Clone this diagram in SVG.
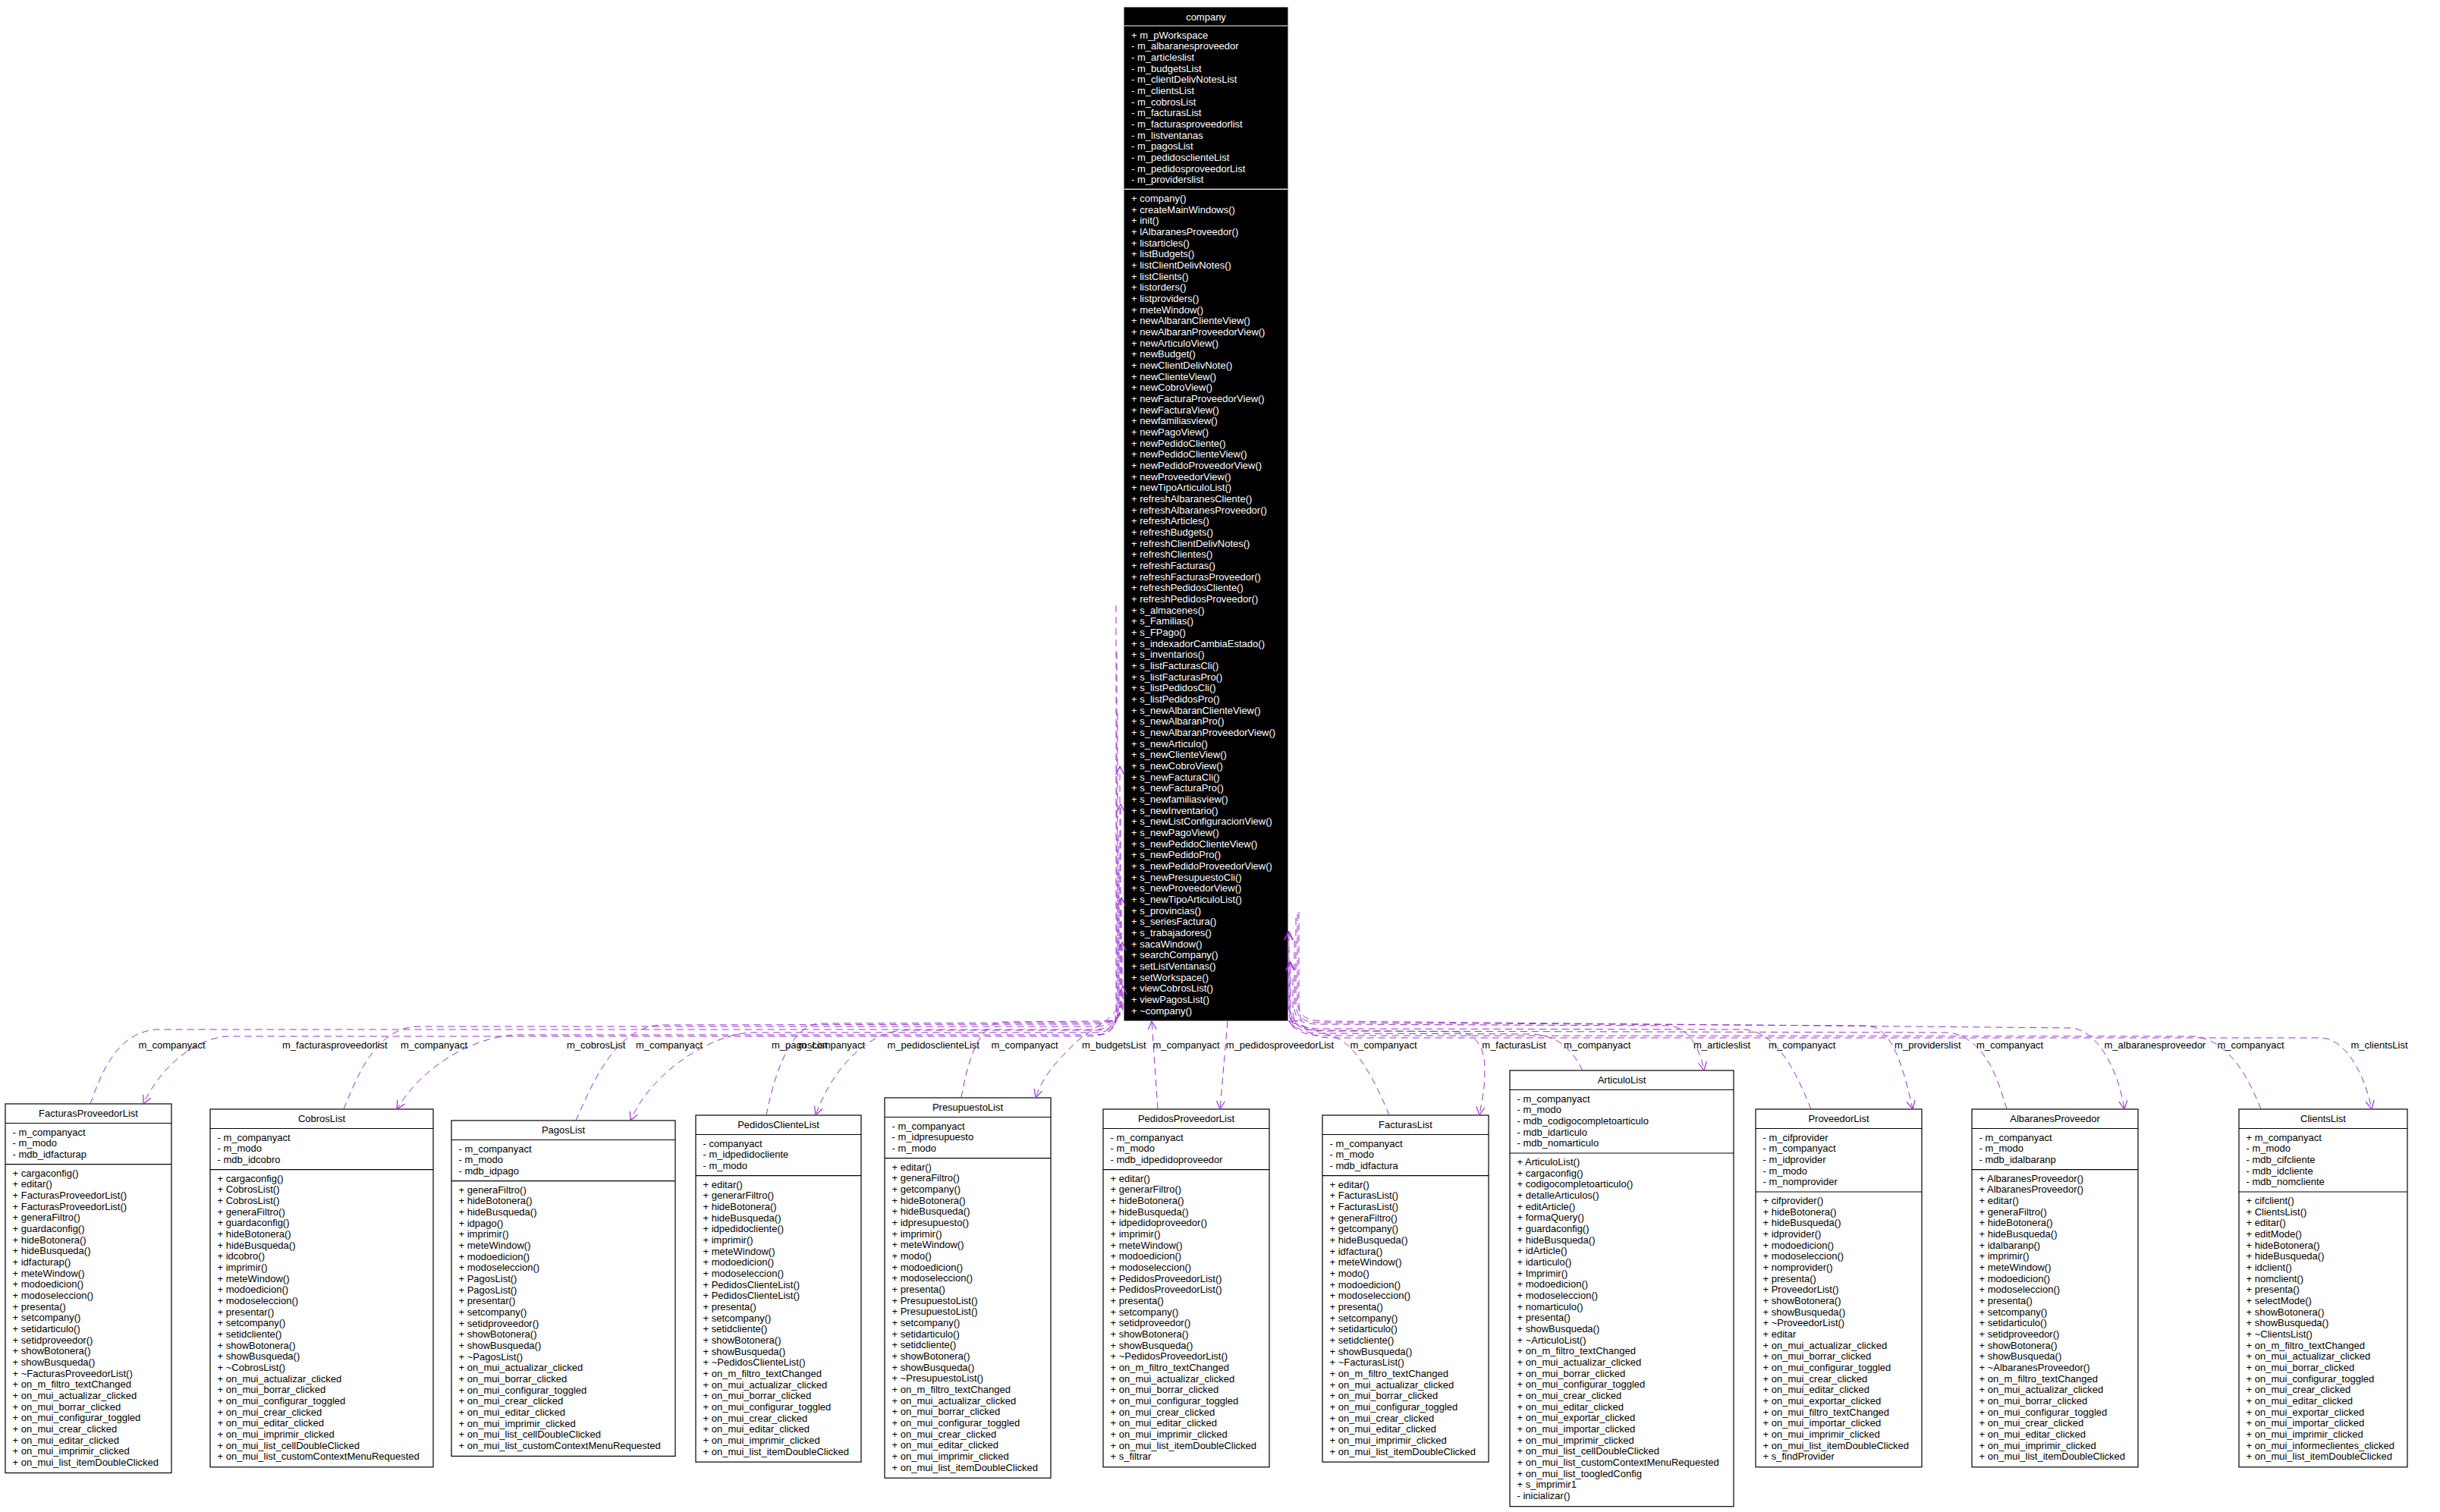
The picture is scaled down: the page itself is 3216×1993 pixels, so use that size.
<svg xmlns="http://www.w3.org/2000/svg" width="3216" height="1993" viewBox="0 0 3216 1993">
<defs>
<style>
.bx{fill:#fff;stroke:#000;stroke-width:1.2}
.sp{stroke:#000;stroke-width:1.2}
text{font-family:"Liberation Sans",Arial,Helvetica,sans-serif;font-size:13px;fill:#000}
.ttl{text-anchor:middle}
.cb{fill:#000;stroke:#000}
text.cw{fill:#fff}
.csp{stroke:#fff;stroke-width:1.2}
.e{fill:none;stroke:#9a32cd;stroke-width:1;stroke-dasharray:9 6;marker-end:url(#ah)}
</style>
<marker id="ah" viewBox="0 0 12 12" refX="11" refY="6" markerWidth="12" markerHeight="12" markerUnits="userSpaceOnUse" orient="auto">
<path d="M0,0.5 L11,6 L0,11.5" fill="none" stroke="#9a32cd" stroke-width="1.2"/>
</marker>
</defs>
<rect width="3216" height="1993" fill="#fff"/>

<g id="company">
<rect class="cb" x="1482" y="10" width="215" height="1335"/>
<line class="csp" x1="1482" y1="34" x2="1697" y2="34"/>
<line class="csp" x1="1482" y1="249.4" x2="1697" y2="249.4"/>
<text class="cw ttl" x="1589.5" y="27">company</text>
<text class="cw" x="1491" y="50.5"><tspan>+ m_pWorkspace</tspan><tspan x="1491" dy="14.67">- m_albaranesproveedor</tspan><tspan x="1491" dy="14.67">- m_articleslist</tspan><tspan x="1491" dy="14.67">- m_budgetsList</tspan><tspan x="1491" dy="14.67">- m_clientDelivNotesList</tspan><tspan x="1491" dy="14.67">- m_clientsList</tspan><tspan x="1491" dy="14.67">- m_cobrosList</tspan><tspan x="1491" dy="14.67">- m_facturasList</tspan><tspan x="1491" dy="14.67">- m_facturasproveedorlist</tspan><tspan x="1491" dy="14.67">- m_listventanas</tspan><tspan x="1491" dy="14.67">- m_pagosList</tspan><tspan x="1491" dy="14.67">- m_pedidosclienteList</tspan><tspan x="1491" dy="14.67">- m_pedidosproveedorList</tspan><tspan x="1491" dy="14.67">- m_providerslist</tspan></text>
<text class="cw" x="1491" y="265.9"><tspan>+ company()</tspan><tspan x="1491" dy="14.67">+ createMainWindows()</tspan><tspan x="1491" dy="14.67">+ init()</tspan><tspan x="1491" dy="14.67">+ lAlbaranesProveedor()</tspan><tspan x="1491" dy="14.67">+ listarticles()</tspan><tspan x="1491" dy="14.67">+ listBudgets()</tspan><tspan x="1491" dy="14.67">+ listClientDelivNotes()</tspan><tspan x="1491" dy="14.67">+ listClients()</tspan><tspan x="1491" dy="14.67">+ listorders()</tspan><tspan x="1491" dy="14.67">+ listproviders()</tspan><tspan x="1491" dy="14.67">+ meteWindow()</tspan><tspan x="1491" dy="14.67">+ newAlbaranClienteView()</tspan><tspan x="1491" dy="14.67">+ newAlbaranProveedorView()</tspan><tspan x="1491" dy="14.67">+ newArticuloView()</tspan><tspan x="1491" dy="14.67">+ newBudget()</tspan><tspan x="1491" dy="14.67">+ newClientDelivNote()</tspan><tspan x="1491" dy="14.67">+ newClienteView()</tspan><tspan x="1491" dy="14.67">+ newCobroView()</tspan><tspan x="1491" dy="14.67">+ newFacturaProveedorView()</tspan><tspan x="1491" dy="14.67">+ newFacturaView()</tspan><tspan x="1491" dy="14.67">+ newfamiliasview()</tspan><tspan x="1491" dy="14.67">+ newPagoView()</tspan><tspan x="1491" dy="14.67">+ newPedidoCliente()</tspan><tspan x="1491" dy="14.67">+ newPedidoClienteView()</tspan><tspan x="1491" dy="14.67">+ newPedidoProveedorView()</tspan><tspan x="1491" dy="14.67">+ newProveedorView()</tspan><tspan x="1491" dy="14.67">+ newTipoArticuloList()</tspan><tspan x="1491" dy="14.67">+ refreshAlbaranesCliente()</tspan><tspan x="1491" dy="14.67">+ refreshAlbaranesProveedor()</tspan><tspan x="1491" dy="14.67">+ refreshArticles()</tspan><tspan x="1491" dy="14.67">+ refreshBudgets()</tspan><tspan x="1491" dy="14.67">+ refreshClientDelivNotes()</tspan><tspan x="1491" dy="14.67">+ refreshClientes()</tspan><tspan x="1491" dy="14.67">+ refreshFacturas()</tspan><tspan x="1491" dy="14.67">+ refreshFacturasProveedor()</tspan><tspan x="1491" dy="14.67">+ refreshPedidosCliente()</tspan><tspan x="1491" dy="14.67">+ refreshPedidosProveedor()</tspan><tspan x="1491" dy="14.67">+ s_almacenes()</tspan><tspan x="1491" dy="14.67">+ s_Familias()</tspan><tspan x="1491" dy="14.67">+ s_FPago()</tspan><tspan x="1491" dy="14.67">+ s_indexadorCambiaEstado()</tspan><tspan x="1491" dy="14.67">+ s_inventarios()</tspan><tspan x="1491" dy="14.67">+ s_listFacturasCli()</tspan><tspan x="1491" dy="14.67">+ s_listFacturasPro()</tspan><tspan x="1491" dy="14.67">+ s_listPedidosCli()</tspan><tspan x="1491" dy="14.67">+ s_listPedidosPro()</tspan><tspan x="1491" dy="14.67">+ s_newAlbaranClienteView()</tspan><tspan x="1491" dy="14.67">+ s_newAlbaranPro()</tspan><tspan x="1491" dy="14.67">+ s_newAlbaranProveedorView()</tspan><tspan x="1491" dy="14.67">+ s_newArticulo()</tspan><tspan x="1491" dy="14.67">+ s_newClienteView()</tspan><tspan x="1491" dy="14.67">+ s_newCobroView()</tspan><tspan x="1491" dy="14.67">+ s_newFacturaCli()</tspan><tspan x="1491" dy="14.67">+ s_newFacturaPro()</tspan><tspan x="1491" dy="14.67">+ s_newfamiliasview()</tspan><tspan x="1491" dy="14.67">+ s_newInventario()</tspan><tspan x="1491" dy="14.67">+ s_newListConfiguracionView()</tspan><tspan x="1491" dy="14.67">+ s_newPagoView()</tspan><tspan x="1491" dy="14.67">+ s_newPedidoClienteView()</tspan><tspan x="1491" dy="14.67">+ s_newPedidoPro()</tspan><tspan x="1491" dy="14.67">+ s_newPedidoProveedorView()</tspan><tspan x="1491" dy="14.67">+ s_newPresupuestoCli()</tspan><tspan x="1491" dy="14.67">+ s_newProveedorView()</tspan><tspan x="1491" dy="14.67">+ s_newTipoArticuloList()</tspan><tspan x="1491" dy="14.67">+ s_provincias()</tspan><tspan x="1491" dy="14.67">+ s_seriesFactura()</tspan><tspan x="1491" dy="14.67">+ s_trabajadores()</tspan><tspan x="1491" dy="14.67">+ sacaWindow()</tspan><tspan x="1491" dy="14.67">+ searchCompany()</tspan><tspan x="1491" dy="14.67">+ setListVentanas()</tspan><tspan x="1491" dy="14.67">+ setWorkspace()</tspan><tspan x="1491" dy="14.67">+ viewCobrosList()</tspan><tspan x="1491" dy="14.67">+ viewPagosList()</tspan><tspan x="1491" dy="14.67">+ ~company()</tspan></text>
</g>

<g id="FacturasProveedorList">
<rect class="bx" x="7" y="1455" width="219" height="486.5"/>
<line class="sp" x1="7" y1="1480.5" x2="226" y2="1480.5"/>
<line class="sp" x1="7" y1="1534.6" x2="226" y2="1534.6"/>
<text class="ttl" x="116.5" y="1472">FacturasProveedorList</text>
<text x="16.5" y="1496.5"><tspan>- m_companyact</tspan><tspan x="16.5" dy="14.67">- m_modo</tspan><tspan x="16.5" dy="14.67">- mdb_idfacturap</tspan></text>
<text x="16.5" y="1550.6"><tspan>+ cargaconfig()</tspan><tspan x="16.5" dy="14.67">+ editar()</tspan><tspan x="16.5" dy="14.67">+ FacturasProveedorList()</tspan><tspan x="16.5" dy="14.67">+ FacturasProveedorList()</tspan><tspan x="16.5" dy="14.67">+ generaFiltro()</tspan><tspan x="16.5" dy="14.67">+ guardaconfig()</tspan><tspan x="16.5" dy="14.67">+ hideBotonera()</tspan><tspan x="16.5" dy="14.67">+ hideBusqueda()</tspan><tspan x="16.5" dy="14.67">+ idfacturap()</tspan><tspan x="16.5" dy="14.67">+ meteWindow()</tspan><tspan x="16.5" dy="14.67">+ modoedicion()</tspan><tspan x="16.5" dy="14.67">+ modoseleccion()</tspan><tspan x="16.5" dy="14.67">+ presenta()</tspan><tspan x="16.5" dy="14.67">+ setcompany()</tspan><tspan x="16.5" dy="14.67">+ setidarticulo()</tspan><tspan x="16.5" dy="14.67">+ setidproveedor()</tspan><tspan x="16.5" dy="14.67">+ showBotonera()</tspan><tspan x="16.5" dy="14.67">+ showBusqueda()</tspan><tspan x="16.5" dy="14.67">+ ~FacturasProveedorList()</tspan><tspan x="16.5" dy="14.67">+ on_m_filtro_textChanged</tspan><tspan x="16.5" dy="14.67">+ on_mui_actualizar_clicked</tspan><tspan x="16.5" dy="14.67">+ on_mui_borrar_clicked</tspan><tspan x="16.5" dy="14.67">+ on_mui_configurar_toggled</tspan><tspan x="16.5" dy="14.67">+ on_mui_crear_clicked</tspan><tspan x="16.5" dy="14.67">+ on_mui_editar_clicked</tspan><tspan x="16.5" dy="14.67">+ on_mui_imprimir_clicked</tspan><tspan x="16.5" dy="14.67">+ on_mui_list_itemDoubleClicked</tspan></text>
</g>

<g id="CobrosList">
<rect class="bx" x="277" y="1462" width="294" height="471.8"/>
<line class="sp" x1="277" y1="1487.5" x2="571" y2="1487.5"/>
<line class="sp" x1="277" y1="1541.6" x2="571" y2="1541.6"/>
<text class="ttl" x="424" y="1479">CobrosList</text>
<text x="286.5" y="1503.5"><tspan>- m_companyact</tspan><tspan x="286.5" dy="14.67">- m_modo</tspan><tspan x="286.5" dy="14.67">- mdb_idcobro</tspan></text>
<text x="286.5" y="1557.6"><tspan>+ cargaconfig()</tspan><tspan x="286.5" dy="14.67">+ CobrosList()</tspan><tspan x="286.5" dy="14.67">+ CobrosList()</tspan><tspan x="286.5" dy="14.67">+ generaFiltro()</tspan><tspan x="286.5" dy="14.67">+ guardaconfig()</tspan><tspan x="286.5" dy="14.67">+ hideBotonera()</tspan><tspan x="286.5" dy="14.67">+ hideBusqueda()</tspan><tspan x="286.5" dy="14.67">+ idcobro()</tspan><tspan x="286.5" dy="14.67">+ imprimir()</tspan><tspan x="286.5" dy="14.67">+ meteWindow()</tspan><tspan x="286.5" dy="14.67">+ modoedicion()</tspan><tspan x="286.5" dy="14.67">+ modoseleccion()</tspan><tspan x="286.5" dy="14.67">+ presentar()</tspan><tspan x="286.5" dy="14.67">+ setcompany()</tspan><tspan x="286.5" dy="14.67">+ setidcliente()</tspan><tspan x="286.5" dy="14.67">+ showBotonera()</tspan><tspan x="286.5" dy="14.67">+ showBusqueda()</tspan><tspan x="286.5" dy="14.67">+ ~CobrosList()</tspan><tspan x="286.5" dy="14.67">+ on_mui_actualizar_clicked</tspan><tspan x="286.5" dy="14.67">+ on_mui_borrar_clicked</tspan><tspan x="286.5" dy="14.67">+ on_mui_configurar_toggled</tspan><tspan x="286.5" dy="14.67">+ on_mui_crear_clicked</tspan><tspan x="286.5" dy="14.67">+ on_mui_editar_clicked</tspan><tspan x="286.5" dy="14.67">+ on_mui_imprimir_clicked</tspan><tspan x="286.5" dy="14.67">+ on_mui_list_cellDoubleClicked</tspan><tspan x="286.5" dy="14.67">+ on_mui_list_customContextMenuRequested</tspan></text>
</g>

<g id="PagosList">
<rect class="bx" x="595" y="1477" width="295" height="442.4"/>
<line class="sp" x1="595" y1="1502.5" x2="890" y2="1502.5"/>
<line class="sp" x1="595" y1="1556.6" x2="890" y2="1556.6"/>
<text class="ttl" x="742.5" y="1494">PagosList</text>
<text x="604.5" y="1518.5"><tspan>- m_companyact</tspan><tspan x="604.5" dy="14.67">- m_modo</tspan><tspan x="604.5" dy="14.67">- mdb_idpago</tspan></text>
<text x="604.5" y="1572.6"><tspan>+ generaFiltro()</tspan><tspan x="604.5" dy="14.67">+ hideBotonera()</tspan><tspan x="604.5" dy="14.67">+ hideBusqueda()</tspan><tspan x="604.5" dy="14.67">+ idpago()</tspan><tspan x="604.5" dy="14.67">+ imprimir()</tspan><tspan x="604.5" dy="14.67">+ meteWindow()</tspan><tspan x="604.5" dy="14.67">+ modoedicion()</tspan><tspan x="604.5" dy="14.67">+ modoseleccion()</tspan><tspan x="604.5" dy="14.67">+ PagosList()</tspan><tspan x="604.5" dy="14.67">+ PagosList()</tspan><tspan x="604.5" dy="14.67">+ presentar()</tspan><tspan x="604.5" dy="14.67">+ setcompany()</tspan><tspan x="604.5" dy="14.67">+ setidproveedor()</tspan><tspan x="604.5" dy="14.67">+ showBotonera()</tspan><tspan x="604.5" dy="14.67">+ showBusqueda()</tspan><tspan x="604.5" dy="14.67">+ ~PagosList()</tspan><tspan x="604.5" dy="14.67">+ on_mui_actualizar_clicked</tspan><tspan x="604.5" dy="14.67">+ on_mui_borrar_clicked</tspan><tspan x="604.5" dy="14.67">+ on_mui_configurar_toggled</tspan><tspan x="604.5" dy="14.67">+ on_mui_crear_clicked</tspan><tspan x="604.5" dy="14.67">+ on_mui_editar_clicked</tspan><tspan x="604.5" dy="14.67">+ on_mui_imprimir_clicked</tspan><tspan x="604.5" dy="14.67">+ on_mui_list_cellDoubleClicked</tspan><tspan x="604.5" dy="14.67">+ on_mui_list_customContextMenuRequested</tspan></text>
</g>

<g id="PedidosClienteList">
<rect class="bx" x="917" y="1470" width="218" height="457.1"/>
<line class="sp" x1="917" y1="1495.5" x2="1135" y2="1495.5"/>
<line class="sp" x1="917" y1="1549.6" x2="1135" y2="1549.6"/>
<text class="ttl" x="1026" y="1487">PedidosClienteList</text>
<text x="926.5" y="1511.5"><tspan>- companyact</tspan><tspan x="926.5" dy="14.67">- m_idpedidocliente</tspan><tspan x="926.5" dy="14.67">- m_modo</tspan></text>
<text x="926.5" y="1565.6"><tspan>+ editar()</tspan><tspan x="926.5" dy="14.67">+ generarFiltro()</tspan><tspan x="926.5" dy="14.67">+ hideBotonera()</tspan><tspan x="926.5" dy="14.67">+ hideBusqueda()</tspan><tspan x="926.5" dy="14.67">+ idpedidocliente()</tspan><tspan x="926.5" dy="14.67">+ imprimir()</tspan><tspan x="926.5" dy="14.67">+ meteWindow()</tspan><tspan x="926.5" dy="14.67">+ modoedicion()</tspan><tspan x="926.5" dy="14.67">+ modoseleccion()</tspan><tspan x="926.5" dy="14.67">+ PedidosClienteList()</tspan><tspan x="926.5" dy="14.67">+ PedidosClienteList()</tspan><tspan x="926.5" dy="14.67">+ presenta()</tspan><tspan x="926.5" dy="14.67">+ setcompany()</tspan><tspan x="926.5" dy="14.67">+ setidcliente()</tspan><tspan x="926.5" dy="14.67">+ showBotonera()</tspan><tspan x="926.5" dy="14.67">+ showBusqueda()</tspan><tspan x="926.5" dy="14.67">+ ~PedidosClienteList()</tspan><tspan x="926.5" dy="14.67">+ on_m_filtro_textChanged</tspan><tspan x="926.5" dy="14.67">+ on_mui_actualizar_clicked</tspan><tspan x="926.5" dy="14.67">+ on_mui_borrar_clicked</tspan><tspan x="926.5" dy="14.67">+ on_mui_configurar_toggled</tspan><tspan x="926.5" dy="14.67">+ on_mui_crear_clicked</tspan><tspan x="926.5" dy="14.67">+ on_mui_editar_clicked</tspan><tspan x="926.5" dy="14.67">+ on_mui_imprimir_clicked</tspan><tspan x="926.5" dy="14.67">+ on_mui_list_itemDoubleClicked</tspan></text>
</g>

<g id="PresupuestoList">
<rect class="bx" x="1166" y="1447" width="219" height="501.2"/>
<line class="sp" x1="1166" y1="1472.5" x2="1385" y2="1472.5"/>
<line class="sp" x1="1166" y1="1526.6" x2="1385" y2="1526.6"/>
<text class="ttl" x="1275.5" y="1464">PresupuestoList</text>
<text x="1175.5" y="1488.5"><tspan>- m_companyact</tspan><tspan x="1175.5" dy="14.67">- m_idpresupuesto</tspan><tspan x="1175.5" dy="14.67">- m_modo</tspan></text>
<text x="1175.5" y="1542.6"><tspan>+ editar()</tspan><tspan x="1175.5" dy="14.67">+ generaFiltro()</tspan><tspan x="1175.5" dy="14.67">+ getcompany()</tspan><tspan x="1175.5" dy="14.67">+ hideBotonera()</tspan><tspan x="1175.5" dy="14.67">+ hideBusqueda()</tspan><tspan x="1175.5" dy="14.67">+ idpresupuesto()</tspan><tspan x="1175.5" dy="14.67">+ imprimir()</tspan><tspan x="1175.5" dy="14.67">+ meteWindow()</tspan><tspan x="1175.5" dy="14.67">+ modo()</tspan><tspan x="1175.5" dy="14.67">+ modoedicion()</tspan><tspan x="1175.5" dy="14.67">+ modoseleccion()</tspan><tspan x="1175.5" dy="14.67">+ presenta()</tspan><tspan x="1175.5" dy="14.67">+ PresupuestoList()</tspan><tspan x="1175.5" dy="14.67">+ PresupuestoList()</tspan><tspan x="1175.5" dy="14.67">+ setcompany()</tspan><tspan x="1175.5" dy="14.67">+ setidarticulo()</tspan><tspan x="1175.5" dy="14.67">+ setidcliente()</tspan><tspan x="1175.5" dy="14.67">+ showBotonera()</tspan><tspan x="1175.5" dy="14.67">+ showBusqueda()</tspan><tspan x="1175.5" dy="14.67">+ ~PresupuestoList()</tspan><tspan x="1175.5" dy="14.67">+ on_m_filtro_textChanged</tspan><tspan x="1175.5" dy="14.67">+ on_mui_actualizar_clicked</tspan><tspan x="1175.5" dy="14.67">+ on_mui_borrar_clicked</tspan><tspan x="1175.5" dy="14.67">+ on_mui_configurar_toggled</tspan><tspan x="1175.5" dy="14.67">+ on_mui_crear_clicked</tspan><tspan x="1175.5" dy="14.67">+ on_mui_editar_clicked</tspan><tspan x="1175.5" dy="14.67">+ on_mui_imprimir_clicked</tspan><tspan x="1175.5" dy="14.67">+ on_mui_list_itemDoubleClicked</tspan></text>
</g>

<g id="PedidosProveedorList">
<rect class="bx" x="1454" y="1462" width="219" height="471.8"/>
<line class="sp" x1="1454" y1="1487.5" x2="1673" y2="1487.5"/>
<line class="sp" x1="1454" y1="1541.6" x2="1673" y2="1541.6"/>
<text class="ttl" x="1563.5" y="1479">PedidosProveedorList</text>
<text x="1463.5" y="1503.5"><tspan>- m_companyact</tspan><tspan x="1463.5" dy="14.67">- m_modo</tspan><tspan x="1463.5" dy="14.67">- mdb_idpedidoproveedor</tspan></text>
<text x="1463.5" y="1557.6"><tspan>+ editar()</tspan><tspan x="1463.5" dy="14.67">+ generarFiltro()</tspan><tspan x="1463.5" dy="14.67">+ hideBotonera()</tspan><tspan x="1463.5" dy="14.67">+ hideBusqueda()</tspan><tspan x="1463.5" dy="14.67">+ idpedidoproveedor()</tspan><tspan x="1463.5" dy="14.67">+ imprimir()</tspan><tspan x="1463.5" dy="14.67">+ meteWindow()</tspan><tspan x="1463.5" dy="14.67">+ modoedicion()</tspan><tspan x="1463.5" dy="14.67">+ modoseleccion()</tspan><tspan x="1463.5" dy="14.67">+ PedidosProveedorList()</tspan><tspan x="1463.5" dy="14.67">+ PedidosProveedorList()</tspan><tspan x="1463.5" dy="14.67">+ presenta()</tspan><tspan x="1463.5" dy="14.67">+ setcompany()</tspan><tspan x="1463.5" dy="14.67">+ setidproveedor()</tspan><tspan x="1463.5" dy="14.67">+ showBotonera()</tspan><tspan x="1463.5" dy="14.67">+ showBusqueda()</tspan><tspan x="1463.5" dy="14.67">+ ~PedidosProveedorList()</tspan><tspan x="1463.5" dy="14.67">+ on_m_filtro_textChanged</tspan><tspan x="1463.5" dy="14.67">+ on_mui_actualizar_clicked</tspan><tspan x="1463.5" dy="14.67">+ on_mui_borrar_clicked</tspan><tspan x="1463.5" dy="14.67">+ on_mui_configurar_toggled</tspan><tspan x="1463.5" dy="14.67">+ on_mui_crear_clicked</tspan><tspan x="1463.5" dy="14.67">+ on_mui_editar_clicked</tspan><tspan x="1463.5" dy="14.67">+ on_mui_imprimir_clicked</tspan><tspan x="1463.5" dy="14.67">+ on_mui_list_itemDoubleClicked</tspan><tspan x="1463.5" dy="14.67">+ s_filtrar</tspan></text>
</g>

<g id="FacturasList">
<rect class="bx" x="1743" y="1470" width="219" height="457.1"/>
<line class="sp" x1="1743" y1="1495.5" x2="1962" y2="1495.5"/>
<line class="sp" x1="1743" y1="1549.6" x2="1962" y2="1549.6"/>
<text class="ttl" x="1852.5" y="1487">FacturasList</text>
<text x="1752.5" y="1511.5"><tspan>- m_companyact</tspan><tspan x="1752.5" dy="14.67">- m_modo</tspan><tspan x="1752.5" dy="14.67">- mdb_idfactura</tspan></text>
<text x="1752.5" y="1565.6"><tspan>+ editar()</tspan><tspan x="1752.5" dy="14.67">+ FacturasList()</tspan><tspan x="1752.5" dy="14.67">+ FacturasList()</tspan><tspan x="1752.5" dy="14.67">+ generaFiltro()</tspan><tspan x="1752.5" dy="14.67">+ getcompany()</tspan><tspan x="1752.5" dy="14.67">+ hideBusqueda()</tspan><tspan x="1752.5" dy="14.67">+ idfactura()</tspan><tspan x="1752.5" dy="14.67">+ meteWindow()</tspan><tspan x="1752.5" dy="14.67">+ modo()</tspan><tspan x="1752.5" dy="14.67">+ modoedicion()</tspan><tspan x="1752.5" dy="14.67">+ modoseleccion()</tspan><tspan x="1752.5" dy="14.67">+ presenta()</tspan><tspan x="1752.5" dy="14.67">+ setcompany()</tspan><tspan x="1752.5" dy="14.67">+ setidarticulo()</tspan><tspan x="1752.5" dy="14.67">+ setidcliente()</tspan><tspan x="1752.5" dy="14.67">+ showBusqueda()</tspan><tspan x="1752.5" dy="14.67">+ ~FacturasList()</tspan><tspan x="1752.5" dy="14.67">+ on_m_filtro_textChanged</tspan><tspan x="1752.5" dy="14.67">+ on_mui_actualizar_clicked</tspan><tspan x="1752.5" dy="14.67">+ on_mui_borrar_clicked</tspan><tspan x="1752.5" dy="14.67">+ on_mui_configurar_toggled</tspan><tspan x="1752.5" dy="14.67">+ on_mui_crear_clicked</tspan><tspan x="1752.5" dy="14.67">+ on_mui_editar_clicked</tspan><tspan x="1752.5" dy="14.67">+ on_mui_imprimir_clicked</tspan><tspan x="1752.5" dy="14.67">+ on_mui_list_itemDoubleClicked</tspan></text>
</g>

<g id="ArticuloList">
<rect class="bx" x="1990" y="1411" width="295" height="574.7"/>
<line class="sp" x1="1990" y1="1436.5" x2="2285" y2="1436.5"/>
<line class="sp" x1="1990" y1="1520" x2="2285" y2="1520"/>
<text class="ttl" x="2137.5" y="1428">ArticuloList</text>
<text x="1999.5" y="1452.5"><tspan>- m_companyact</tspan><tspan x="1999.5" dy="14.67">- m_modo</tspan><tspan x="1999.5" dy="14.67">- mdb_codigocompletoarticulo</tspan><tspan x="1999.5" dy="14.67">- mdb_idarticulo</tspan><tspan x="1999.5" dy="14.67">- mdb_nomarticulo</tspan></text>
<text x="1999.5" y="1536"><tspan>+ ArticuloList()</tspan><tspan x="1999.5" dy="14.67">+ cargaconfig()</tspan><tspan x="1999.5" dy="14.67">+ codigocompletoarticulo()</tspan><tspan x="1999.5" dy="14.67">+ detalleArticulos()</tspan><tspan x="1999.5" dy="14.67">+ editArticle()</tspan><tspan x="1999.5" dy="14.67">+ formaQuery()</tspan><tspan x="1999.5" dy="14.67">+ guardaconfig()</tspan><tspan x="1999.5" dy="14.67">+ hideBusqueda()</tspan><tspan x="1999.5" dy="14.67">+ idArticle()</tspan><tspan x="1999.5" dy="14.67">+ idarticulo()</tspan><tspan x="1999.5" dy="14.67">+ Imprimir()</tspan><tspan x="1999.5" dy="14.67">+ modoedicion()</tspan><tspan x="1999.5" dy="14.67">+ modoseleccion()</tspan><tspan x="1999.5" dy="14.67">+ nomarticulo()</tspan><tspan x="1999.5" dy="14.67">+ presenta()</tspan><tspan x="1999.5" dy="14.67">+ showBusqueda()</tspan><tspan x="1999.5" dy="14.67">+ ~ArticuloList()</tspan><tspan x="1999.5" dy="14.67">+ on_m_filtro_textChanged</tspan><tspan x="1999.5" dy="14.67">+ on_mui_actualizar_clicked</tspan><tspan x="1999.5" dy="14.67">+ on_mui_borrar_clicked</tspan><tspan x="1999.5" dy="14.67">+ on_mui_configurar_toggled</tspan><tspan x="1999.5" dy="14.67">+ on_mui_crear_clicked</tspan><tspan x="1999.5" dy="14.67">+ on_mui_editar_clicked</tspan><tspan x="1999.5" dy="14.67">+ on_mui_exportar_clicked</tspan><tspan x="1999.5" dy="14.67">+ on_mui_importar_clicked</tspan><tspan x="1999.5" dy="14.67">+ on_mui_imprimir_clicked</tspan><tspan x="1999.5" dy="14.67">+ on_mui_list_cellDoubleClicked</tspan><tspan x="1999.5" dy="14.67">+ on_mui_list_customContextMenuRequested</tspan><tspan x="1999.5" dy="14.67">+ on_mui_list_toogledConfig</tspan><tspan x="1999.5" dy="14.67">+ s_imprimir1</tspan><tspan x="1999.5" dy="14.67">- inicializar()</tspan></text>
</g>

<g id="ProveedorList">
<rect class="bx" x="2314" y="1462" width="219" height="471.8"/>
<line class="sp" x1="2314" y1="1487.5" x2="2533" y2="1487.5"/>
<line class="sp" x1="2314" y1="1571" x2="2533" y2="1571"/>
<text class="ttl" x="2423.5" y="1479">ProveedorList</text>
<text x="2323.5" y="1503.5"><tspan>- m_cifprovider</tspan><tspan x="2323.5" dy="14.67">- m_companyact</tspan><tspan x="2323.5" dy="14.67">- m_idprovider</tspan><tspan x="2323.5" dy="14.67">- m_modo</tspan><tspan x="2323.5" dy="14.67">- m_nomprovider</tspan></text>
<text x="2323.5" y="1587"><tspan>+ cifprovider()</tspan><tspan x="2323.5" dy="14.67">+ hideBotonera()</tspan><tspan x="2323.5" dy="14.67">+ hideBusqueda()</tspan><tspan x="2323.5" dy="14.67">+ idprovider()</tspan><tspan x="2323.5" dy="14.67">+ modoedicion()</tspan><tspan x="2323.5" dy="14.67">+ modoseleccion()</tspan><tspan x="2323.5" dy="14.67">+ nomprovider()</tspan><tspan x="2323.5" dy="14.67">+ presenta()</tspan><tspan x="2323.5" dy="14.67">+ ProveedorList()</tspan><tspan x="2323.5" dy="14.67">+ showBotonera()</tspan><tspan x="2323.5" dy="14.67">+ showBusqueda()</tspan><tspan x="2323.5" dy="14.67">+ ~ProveedorList()</tspan><tspan x="2323.5" dy="14.67">+ editar</tspan><tspan x="2323.5" dy="14.67">+ on_mui_actualizar_clicked</tspan><tspan x="2323.5" dy="14.67">+ on_mui_borrar_clicked</tspan><tspan x="2323.5" dy="14.67">+ on_mui_configurar_toggled</tspan><tspan x="2323.5" dy="14.67">+ on_mui_crear_clicked</tspan><tspan x="2323.5" dy="14.67">+ on_mui_editar_clicked</tspan><tspan x="2323.5" dy="14.67">+ on_mui_exportar_clicked</tspan><tspan x="2323.5" dy="14.67">+ on_mui_filtro_textChanged</tspan><tspan x="2323.5" dy="14.67">+ on_mui_importar_clicked</tspan><tspan x="2323.5" dy="14.67">+ on_mui_imprimir_clicked</tspan><tspan x="2323.5" dy="14.67">+ on_mui_list_itemDoubleClicked</tspan><tspan x="2323.5" dy="14.67">+ s_findProvider</tspan></text>
</g>

<g id="AlbaranesProveedor">
<rect class="bx" x="2599" y="1462" width="219" height="471.8"/>
<line class="sp" x1="2599" y1="1487.5" x2="2818" y2="1487.5"/>
<line class="sp" x1="2599" y1="1541.6" x2="2818" y2="1541.6"/>
<text class="ttl" x="2708.5" y="1479">AlbaranesProveedor</text>
<text x="2608.5" y="1503.5"><tspan>- m_companyact</tspan><tspan x="2608.5" dy="14.67">- m_modo</tspan><tspan x="2608.5" dy="14.67">- mdb_idalbaranp</tspan></text>
<text x="2608.5" y="1557.6"><tspan>+ AlbaranesProveedor()</tspan><tspan x="2608.5" dy="14.67">+ AlbaranesProveedor()</tspan><tspan x="2608.5" dy="14.67">+ editar()</tspan><tspan x="2608.5" dy="14.67">+ generaFiltro()</tspan><tspan x="2608.5" dy="14.67">+ hideBotonera()</tspan><tspan x="2608.5" dy="14.67">+ hideBusqueda()</tspan><tspan x="2608.5" dy="14.67">+ idalbaranp()</tspan><tspan x="2608.5" dy="14.67">+ imprimir()</tspan><tspan x="2608.5" dy="14.67">+ meteWindow()</tspan><tspan x="2608.5" dy="14.67">+ modoedicion()</tspan><tspan x="2608.5" dy="14.67">+ modoseleccion()</tspan><tspan x="2608.5" dy="14.67">+ presenta()</tspan><tspan x="2608.5" dy="14.67">+ setcompany()</tspan><tspan x="2608.5" dy="14.67">+ setidarticulo()</tspan><tspan x="2608.5" dy="14.67">+ setidproveedor()</tspan><tspan x="2608.5" dy="14.67">+ showBotonera()</tspan><tspan x="2608.5" dy="14.67">+ showBusqueda()</tspan><tspan x="2608.5" dy="14.67">+ ~AlbaranesProveedor()</tspan><tspan x="2608.5" dy="14.67">+ on_m_filtro_textChanged</tspan><tspan x="2608.5" dy="14.67">+ on_mui_actualizar_clicked</tspan><tspan x="2608.5" dy="14.67">+ on_mui_borrar_clicked</tspan><tspan x="2608.5" dy="14.67">+ on_mui_configurar_toggled</tspan><tspan x="2608.5" dy="14.67">+ on_mui_crear_clicked</tspan><tspan x="2608.5" dy="14.67">+ on_mui_editar_clicked</tspan><tspan x="2608.5" dy="14.67">+ on_mui_imprimir_clicked</tspan><tspan x="2608.5" dy="14.67">+ on_mui_list_itemDoubleClicked</tspan></text>
</g>

<g id="ClientsList">
<rect class="bx" x="2951" y="1462" width="222" height="471.8"/>
<line class="sp" x1="2951" y1="1487.5" x2="3173" y2="1487.5"/>
<line class="sp" x1="2951" y1="1571" x2="3173" y2="1571"/>
<text class="ttl" x="3062" y="1479">ClientsList</text>
<text x="2960.5" y="1503.5"><tspan>+ m_companyact</tspan><tspan x="2960.5" dy="14.67">- m_modo</tspan><tspan x="2960.5" dy="14.67">- mdb_cifcliente</tspan><tspan x="2960.5" dy="14.67">- mdb_idcliente</tspan><tspan x="2960.5" dy="14.67">- mdb_nomcliente</tspan></text>
<text x="2960.5" y="1587"><tspan>+ cifclient()</tspan><tspan x="2960.5" dy="14.67">+ ClientsList()</tspan><tspan x="2960.5" dy="14.67">+ editar()</tspan><tspan x="2960.5" dy="14.67">+ editMode()</tspan><tspan x="2960.5" dy="14.67">+ hideBotonera()</tspan><tspan x="2960.5" dy="14.67">+ hideBusqueda()</tspan><tspan x="2960.5" dy="14.67">+ idclient()</tspan><tspan x="2960.5" dy="14.67">+ nomclient()</tspan><tspan x="2960.5" dy="14.67">+ presenta()</tspan><tspan x="2960.5" dy="14.67">+ selectMode()</tspan><tspan x="2960.5" dy="14.67">+ showBotonera()</tspan><tspan x="2960.5" dy="14.67">+ showBusqueda()</tspan><tspan x="2960.5" dy="14.67">+ ~ClientsList()</tspan><tspan x="2960.5" dy="14.67">+ on_m_filtro_textChanged</tspan><tspan x="2960.5" dy="14.67">+ on_mui_actualizar_clicked</tspan><tspan x="2960.5" dy="14.67">+ on_mui_borrar_clicked</tspan><tspan x="2960.5" dy="14.67">+ on_mui_configurar_toggled</tspan><tspan x="2960.5" dy="14.67">+ on_mui_crear_clicked</tspan><tspan x="2960.5" dy="14.67">+ on_mui_editar_clicked</tspan><tspan x="2960.5" dy="14.67">+ on_mui_exportar_clicked</tspan><tspan x="2960.5" dy="14.67">+ on_mui_importar_clicked</tspan><tspan x="2960.5" dy="14.67">+ on_mui_imprimir_clicked</tspan><tspan x="2960.5" dy="14.67">+ on_mui_informeclientes_clicked</tspan><tspan x="2960.5" dy="14.67">+ on_mui_list_itemDoubleClicked</tspan></text>
</g>

<g id="connectors">
<path class="e" d="M119,1455 C135,1410 155,1362 205,1357 L1440,1357 C1466,1357 1476,1348 1476,1320 L1476,1010"/>
<path class="e" d="M1471,798 L1471,1330 C1471,1360 1460,1366 1430,1366 L300,1366 C262,1368 215,1400 189,1455"/>
<path class="e" d="M453,1462 C470,1420 495,1355 550,1353 L1440,1353 C1468,1353 1477,1345 1477,1320 L1477,1060"/>
<path class="e" d="M1472,860 L1472,1330 C1472,1358 1462,1364 1440,1364 L680,1364 C630,1366 560,1400 523,1462"/>
<path class="e" d="M759,1477 C780,1430 810,1355 870,1351 L1440,1350 C1470,1350 1478,1342 1478,1320 L1478,1183"/>
<path class="e" d="M1473,940 L1473,1330 C1473,1355 1463,1361 1440,1361 L990,1361 C940,1363 860,1410 831,1477"/>
<path class="e" d="M1010,1470 C1020,1420 1040,1352 1080,1349 L1445,1348 C1472,1348 1479,1340 1479,1320 L1479,1242"/>
<path class="e" d="M1474,1100 L1474,1330 C1474,1352 1465,1358 1445,1358 L1190,1358 C1150,1360 1100,1400 1075,1470"/>
<path class="e" d="M1267,1447 C1275,1400 1290,1350 1320,1347 L1450,1346 C1472,1346 1480,1340 1480,1325 L1480,1300"/>
<path class="e" d="M1475,1150 L1475,1320 C1475,1340 1440,1355 1420,1372 C1400,1392 1375,1415 1365,1447"/>
<path class="e" d="M1526,1462 L1518,1346"/>
<path class="e" d="M1618,1346 L1608,1462"/>
<path class="e" d="M1831,1470 C1815,1430 1790,1380 1760,1367 C1735,1358 1712,1352 1699,1346"/>
<path class="e" d="M1704,1290 L1704,1330 C1704,1350 1712,1358 1735,1358 L1920,1360 C1945,1361 1957,1380 1957,1410 C1957,1440 1952,1455 1950,1470"/>
<path class="e" d="M2086,1411 C2075,1390 2060,1366 2020,1363 L1740,1362 C1712,1362 1700,1352 1700,1330 L1700,1268"/>
<path class="e" d="M1706,1240 L1706,1325 C1706,1345 1715,1350 1740,1350 L2200,1352 C2225,1354 2240,1380 2246,1411"/>
<path class="e" d="M2387,1462 C2370,1420 2345,1362 2300,1357 L1740,1356 C1713,1356 1698,1346 1698,1320 L1698,1228"/>
<path class="e" d="M1708,1210 L1708,1320 C1708,1343 1718,1348 1745,1348 L2460,1352 C2490,1354 2505,1390 2521,1462"/>
<path class="e" d="M2645,1462 C2635,1430 2620,1370 2570,1361 L1745,1359 C1715,1359 1701,1350 1701,1330 L1701,1268"/>
<path class="e" d="M1710,1205 L1710,1318 C1710,1340 1722,1346 1750,1346 L2730,1355 C2760,1357 2790,1400 2800,1462"/>
<path class="e" d="M2980,1462 C2965,1425 2940,1370 2890,1366 L1745,1365 C1712,1365 1699,1355 1699,1330 L1699,1228"/>
<path class="e" d="M1712,1202 L1712,1318 C1712,1360 1725,1368 1760,1368 L3060,1368 C3090,1370 3115,1410 3126,1462"/>
<text x="182.5" y="1382">m_companyact</text>
<text x="372" y="1382">m_facturasproveedorlist</text>
<text x="528" y="1382">m_companyact</text>
<text x="747" y="1382">m_cobrosList</text>
<text x="838" y="1382">m_companyact</text>
<text x="1017" y="1382">m_pagosList</text>
<text x="1052" y="1382">m_companyact</text>
<text x="1169.5" y="1382">m_pedidosclienteList</text>
<text x="1306.5" y="1382">m_companyact</text>
<text x="1426" y="1382">m_budgetsList</text>
<text x="1519.5" y="1382">m_companyact</text>
<text x="1615.8" y="1382">m_pedidosproveedorList</text>
<text x="1779.4" y="1382">m_companyact</text>
<text x="1953.3" y="1382">m_facturasList</text>
<text x="2061.1" y="1382">m_companyact</text>
<text x="2231.9" y="1382">m_articleslist</text>
<text x="2331.1" y="1382">m_companyact</text>
<text x="2497.1" y="1382">m_providerslist</text>
<text x="2604.9" y="1382">m_companyact</text>
<text x="2773.5" y="1382">m_albaranesproveedor</text>
<text x="2922.5" y="1382">m_companyact</text>
<text x="3098.4" y="1382">m_clientsList</text>
</g>
</svg>
